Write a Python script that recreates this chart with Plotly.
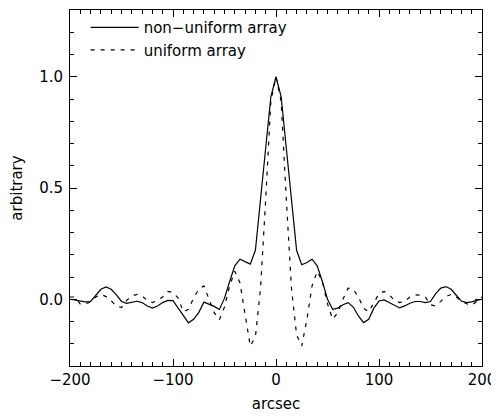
import plotly.graph_objects as go

# arcsec offsets shared by both curves
arcsec = [
    -200, -195, -190, -185, -180, -175, -170, -165, -160, -155,
    -150, -145, -140, -135, -130, -125, -120, -115, -110, -105,
    -100, -95, -90, -85, -80, -75, -70, -65, -60, -55,
    -50, -45, -40, -35, -30, -25, -20, -15, -10, -5,
    0,
    5, 10, 15, 20, 25, 30, 35, 40, 45, 50,
    55, 60, 65, 70, 75, 80, 85, 90, 95, 100,
    105, 110, 115, 120, 125, 130, 135, 140, 145, 150,
    155, 160, 165, 170, 175, 180, 185, 190, 195, 200,
]

non_uniform = [
    0.0, -0.005, -0.008, -0.012, -0.010, 0.015, 0.045, 0.055, 0.045, 0.020,
    -0.010, -0.018, -0.013, -0.009, -0.015, -0.030, -0.040, -0.030, -0.015, -0.005,
    -0.006, -0.040, -0.075, -0.106, -0.090, -0.060, -0.013, -0.022, -0.032, -0.046,
    0.005, 0.080, 0.150, 0.180, 0.168, 0.158, 0.220, 0.450, 0.680, 0.910,
    1.0,
    0.910, 0.680, 0.450, 0.220, 0.155, 0.165, 0.180, 0.150, 0.080, 0.000,
    -0.045, -0.040, -0.025, -0.015, -0.035, -0.075, -0.105, -0.090, -0.040, -0.008,
    -0.003, -0.015, -0.030, -0.039, -0.030, -0.018, -0.010, -0.010, -0.015, -0.010,
    0.025, 0.050, 0.057, 0.045, 0.018, -0.008, -0.015, -0.012, -0.005, 0.0,
]

uniform = [
    0.010, 0.010, -0.022, -0.020, -0.012, 0.010, 0.022, 0.012, -0.007, -0.030,
    -0.037, -0.005, 0.015, 0.022, 0.015, -0.005, -0.015, -0.005, 0.010, 0.035,
    0.030, 0.005, -0.057, -0.045, 0.005, 0.045, 0.060, 0.000, -0.060, -0.092,
    -0.035, 0.060, 0.126, 0.074, -0.070, -0.210, -0.170, 0.050, 0.450, 0.890,
    1.0,
    0.890, 0.450, 0.050, -0.160, -0.210, -0.090, 0.060, 0.125, 0.080, -0.020,
    -0.090, -0.060, 0.000, 0.050, 0.045, 0.010, -0.040, -0.057, -0.015, 0.025,
    0.035, 0.020, -0.005, -0.015, -0.010, 0.010, 0.020, 0.018, 0.010, -0.025,
    -0.030, -0.010, 0.012, 0.022, 0.010, -0.008, -0.020, -0.028, -0.010, 0.010,
]

FONT = "DejaVu Sans"
TXT = dict(family=FONT, size=15, color="black")

fig = go.Figure()

fig.add_trace(
    go.Scatter(
        x=arcsec,
        y=non_uniform,
        mode="lines",
        name="non\u2212uniform array",
        line=dict(color="black", width=1.2),
    )
)

fig.add_trace(
    go.Scatter(
        x=arcsec,
        y=uniform,
        mode="lines",
        name="uniform array",
        line=dict(color="black", width=1.2, dash="4px,6px"),
    )
)

axis_common = dict(
    showgrid=False,
    zeroline=False,
    showline=True,
    linecolor="black",
    linewidth=1,
    mirror="allticks",
    ticks="inside",
    ticklen=7,
    tickcolor="black",
    tickfont=TXT,
)

fig.update_xaxes(
    range=[-200, 200],
    tickvals=[-200, -100, 0, 100, 200],
    ticktext=["\u2212200", "\u2212100", "0", "100", "200"],
    minor=dict(dtick=10, ticklen=4, ticks="inside", tickcolor="black"),
    title=dict(text="arcsec", font=TXT, standoff=10),
    **axis_common,
)

fig.update_yaxes(
    range=[-0.3, 1.3],
    tickvals=[0.0, 0.5, 1.0],
    ticktext=["0.0", "0.5", "1.0"],
    ticklabelstandoff=3,
    minor=dict(dtick=0.1, ticklen=4, ticks="inside", tickcolor="black"),
    title=dict(text="arbitrary", font=TXT, standoff=16),
    **axis_common,
)

# page body adds an 8px margin, so the figure is sized/offset to compensate
fig.update_layout(
    width=491,
    height=408,
    margin=dict(l=62, r=17, t=2, b=50),
    paper_bgcolor="white",
    plot_bgcolor="white",
    font=TXT,
    showlegend=True,
    legend=dict(
        x=0.038,
        y=0.997,
        xanchor="left",
        yanchor="top",
        bgcolor="rgba(0,0,0,0)",
        font=TXT,
        itemwidth=48,
    ),
)

fig.write_html("out.html")
